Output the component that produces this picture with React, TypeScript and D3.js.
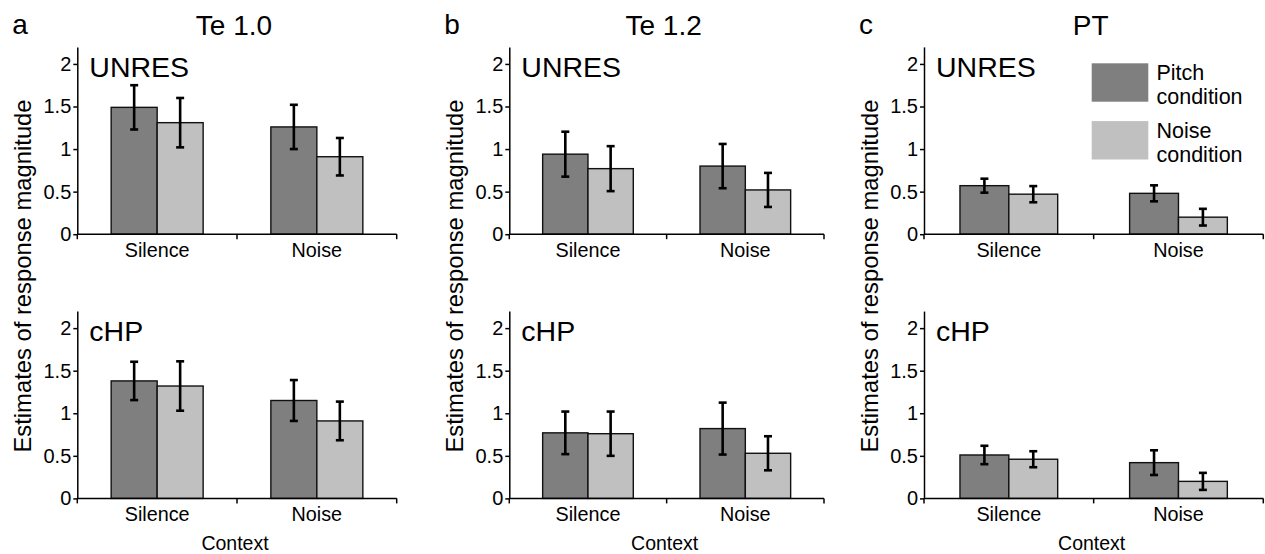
import React, { useEffect, useRef } from 'react';
import * as d3 from 'd3';

// categories on the x axis and the two conditions in each group
const contexts = ['Silence', 'Noise'];
const conditions = ['Pitch condition', 'Noise condition'];
const yTicks = [0, 0.5, 1, 1.5, 2];

// values per subplot: [Silence/Pitch, Silence/Noise, Noise/Pitch, Noise/Noise]
const te10UnresMean = [1.49, 1.31, 1.26, 0.91];
const te10UnresErr = [0.26, 0.29, 0.26, 0.22];
const te10ChpMean = [1.38, 1.32, 1.15, 0.91];
const te10ChpErr = [0.225, 0.29, 0.24, 0.227];

const te12UnresMean = [0.94, 0.77, 0.8, 0.52];
const te12UnresErr = [0.264, 0.264, 0.26, 0.2];
const te12ChpMean = [0.77, 0.76, 0.82, 0.53];
const te12ChpErr = [0.25, 0.26, 0.305, 0.2];

const ptUnresMean = [0.57, 0.47, 0.48, 0.2];
const ptUnresErr = [0.082, 0.095, 0.094, 0.098];
const ptChpMean = [0.51, 0.46, 0.42, 0.2];
const ptChpErr = [0.108, 0.094, 0.145, 0.1];

const FONT = '"Liberation Sans", Arial, sans-serif';
const COLORS = ['#7f7f7f', '#c0c0c0'];

const panels = [
  { letter: 'a', title: 'Te 1.0', left: 77.3, right: 396.7, rows: [[te10UnresMean, te10UnresErr], [te10ChpMean, te10ChpErr]] },
  { letter: 'b', title: 'Te 1.2', left: 509.3, right: 824, rows: [[te12UnresMean, te12UnresErr], [te12ChpMean, te12ChpErr]] },
  { letter: 'c', title: 'PT', left: 924, right: 1263.3, rows: [[ptUnresMean, ptUnresErr], [ptChpMean, ptChpErr]] },
];
const rowLabels = ['UNRES', 'cHP'];
const rowBase = [234.2, 498.4];

const App: React.FC = () => {
  const svgRef = useRef<SVGSVGElement>(null);

  useEffect(() => {
    if (!svgRef.current) return;
    const svg = d3.select(svgRef.current);
    svg.selectAll('*').remove();

    panels.forEach(p => {
      const x0 = d3.scaleBand().domain(contexts).range([p.left, p.right]).padding(0);
      const bw = x0.bandwidth();
      const x1 = d3.scaleBand().domain(conditions).range([bw * 0.212, bw * 0.788]).padding(0);
      const mid = (p.left + p.right) / 2;

      svg.append('text')
        .attr('x', p.left - 65).attr('y', 34)
        .style('font-family', FONT).style('font-size', '28px')
        .text(p.letter);
      svg.append('text')
        .attr('x', mid - 3).attr('y', 35)
        .attr('text-anchor', 'middle')
        .style('font-family', FONT).style('font-size', '28px')
        .text(p.title);

      svg.append('text')
        .attr('transform', `translate(${p.left - 46.5},276) rotate(-90)`)
        .attr('text-anchor', 'middle')
        .style('font-family', FONT).style('font-size', '23.8px')
        .text('Estimates of response magnitude');

      svg.append('text')
        .attr('x', mid - 2).attr('y', 550)
        .attr('text-anchor', 'middle')
        .style('font-family', FONT).style('font-size', '19.5px')
        .text('Context');

      p.rows.forEach(([means, errs], ri) => {
        const base = rowBase[ri];
        const y = d3.scaleLinear().domain([0, 2.2]).range([base, base - 187.3]);
        const g = svg.append('g');

        const rows = contexts.flatMap((c, ci) =>
          conditions.map((k, ki) => ({ c, k, ki, v: means[ci * 2 + ki], e: errs[ci * 2 + ki] }))
        );

        g.selectAll('rect.bar')
          .data(rows)
          .enter()
          .append('rect')
          .attr('class', 'bar')
          .attr('x', d => (x0(d.c) || 0) + (x1(d.k) || 0))
          .attr('width', x1.bandwidth())
          .attr('y', d => y(d.v))
          .attr('height', d => y(0) - y(d.v))
          .attr('fill', d => COLORS[d.ki])
          .attr('stroke', '#111')
          .attr('stroke-width', 1.4);

        const cx = (d: any) => (x0(d.c) || 0) + (x1(d.k) || 0) + x1.bandwidth() / 2;
        const eg = g.selectAll('g.err').data(rows).enter().append('g')
          .attr('stroke', '#000').attr('stroke-width', 2.6);
        eg.append('line')
          .attr('x1', cx).attr('x2', cx)
          .attr('y1', d => y(d.v + d.e)).attr('y2', d => y(d.v - d.e));
        eg.append('line')
          .attr('x1', d => cx(d) - 4).attr('x2', d => cx(d) + 4)
          .attr('y1', d => y(d.v + d.e)).attr('y2', d => y(d.v + d.e));
        eg.append('line')
          .attr('x1', d => cx(d) - 4).attr('x2', d => cx(d) + 4)
          .attr('y1', d => y(d.v - d.e)).attr('y2', d => y(d.v - d.e));

        // y axis
        const ya = g.append('g')
          .attr('transform', `translate(${p.left},0)`)
          .call(d3.axisLeft(y).tickValues(yTicks).tickSize(4).tickSizeOuter(0).tickPadding(2)
            .tickFormat(d => String(d)));
        ya.selectAll('path, line').attr('stroke', '#000').attr('stroke-width', 1.5);
        ya.selectAll('text').style('font-family', FONT).style('font-size', '20px').attr('fill', '#000');

        // x axis: baseline, boundary ticks and centered labels
        g.append('line')
          .attr('x1', p.left).attr('x2', p.right)
          .attr('y1', y(0)).attr('y2', y(0))
          .attr('stroke', '#000').attr('stroke-width', 1.5);
        const bounds = [...contexts.map(c => x0(c) || 0), p.right];
        g.selectAll('line.xt').data(bounds).enter().append('line')
          .attr('x1', d => d).attr('x2', d => d)
          .attr('y1', y(0)).attr('y2', y(0) + 5)
          .attr('stroke', '#000').attr('stroke-width', 1.5);
        g.selectAll('text.xl').data(contexts).enter().append('text')
          .attr('x', d => (x0(d) || 0) + bw / 2)
          .attr('y', y(0) + 22.5)
          .attr('text-anchor', 'middle')
          .style('font-family', FONT).style('font-size', '19.8px')
          .text(d => d);

        g.append('text')
          .attr('x', p.left + 12).attr('y', y(2) + 13)
          .style('font-family', FONT).style('font-size', '28.5px')
          .text(rowLabels[ri]);
      });
    });

    // legend: two lines per entry
    const leg = svg.append('g');
    conditions.forEach((c, i) => {
      const top = 63.3 + i * 57.8;
      leg.append('rect')
        .attr('x', 1091.7).attr('y', top)
        .attr('width', 56.6).attr('height', 38.4)
        .attr('fill', COLORS[i]);
      c.split(' ').forEach((w, wi) => {
        leg.append('text')
          .attr('x', 1156.5)
          .attr('y', top + 16.5 + wi * 24.5)
          .style('font-family', FONT).style('font-size', '21.5px')
          .text(w);
      });
    });
  }, []);

  return (
    <div style={{ position: 'absolute', left: 0, top: 0 }}>
      <svg ref={svgRef} width={1265} height={554} style={{ display: 'block', background: '#fff' }} />
    </div>
  );
};

export default App;
